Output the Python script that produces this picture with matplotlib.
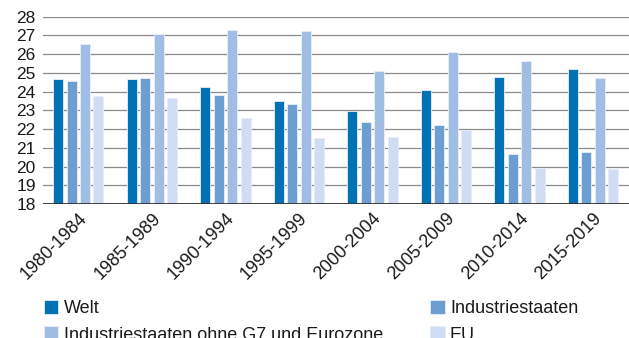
import matplotlib

matplotlib.use("Agg")

import matplotlib.pyplot as plt  # noqa: E402
import numpy as np  # noqa: E402

plt.rcParams["font.family"] = ["Liberation Sans", "DejaVu Sans"]

periods = ["1980-1984", "1985-1989", "1990-1994", "1995-1999",
           "2000-2004", "2005-2009", "2010-2014", "2015-2019"]
welt = [24.67, 24.67, 24.23, 23.50, 22.97, 24.07, 24.78, 25.23]
industrie = [24.57, 24.73, 23.84, 23.34, 22.38, 22.22, 20.65, 20.76]
ohne_g7 = [26.54, 27.08, 27.29, 27.24, 25.10, 26.12, 25.63, 24.74]
eu = [23.75, 23.64, 22.57, 21.50, 21.60, 21.97, 19.94, 19.90]

series = [
    ("Welt", welt, "#0071b5"),
    ("Industriestaaten", industrie, "#6c9ed1"),
    ("Industriestaaten ohne G7 und Eurozone", ohne_g7, "#a1bde4"),
    ("EU", eu, "#cfdcf3"),
]

BASE = 18
fig = plt.figure(figsize=(6.29, 3.38), dpi=100)
ax = fig.add_axes([0.068, 0.396, 0.932, 0.555])

x = np.arange(len(periods))
width = 0.136
step = 0.182
handles = {}
for i, (label, vals, color) in enumerate(series):
    vals = np.asarray(vals)
    offs = (i - 1.5) * step
    bars = ax.bar(x + offs, vals - BASE, bottom=BASE, width=width, color=color,
                  edgecolor="#e8eef8", linewidth=0.6, zorder=2, label=label)
    handles[label] = bars

ax.set_ylim(BASE, 28)
ax.set_xlim(-0.485, 7.49)
ax.set_yticks(range(18, 29))
ax.yaxis.grid(True, color="#8a8a8a", lw=0.9, zorder=1)
ax.axhline(BASE, color="#333333", lw=1.3, zorder=3)

for side in ("top", "right", "left", "bottom"):
    ax.spines[side].set_visible(False)
ax.tick_params(axis="y", length=0, pad=5, labelsize=12.5, labelcolor="#1a1a1a")
ax.tick_params(axis="x", length=0, pad=4, labelsize=13, labelcolor="#1a1a1a")
ax.set_xticks(x)
ax.set_xticklabels(periods, rotation=45, ha="right", rotation_mode="anchor")

# legend: two columns, filled column-wise
order = ["Welt", "Industriestaaten ohne G7 und Eurozone", "Industriestaaten", "EU"]
fig.legend([handles[k] for k in order], order, ncol=2, frameon=False,
           loc="upper left", bbox_to_anchor=(0.070, 0.112), fontsize=13,
           handlelength=0.8, handleheight=0.8, handletextpad=0.3,
           labelspacing=0.5, columnspacing=2.6, borderpad=0, borderaxespad=0,
           labelcolor="#1a1a1a")

fig.savefig("out.png", dpi=100)
